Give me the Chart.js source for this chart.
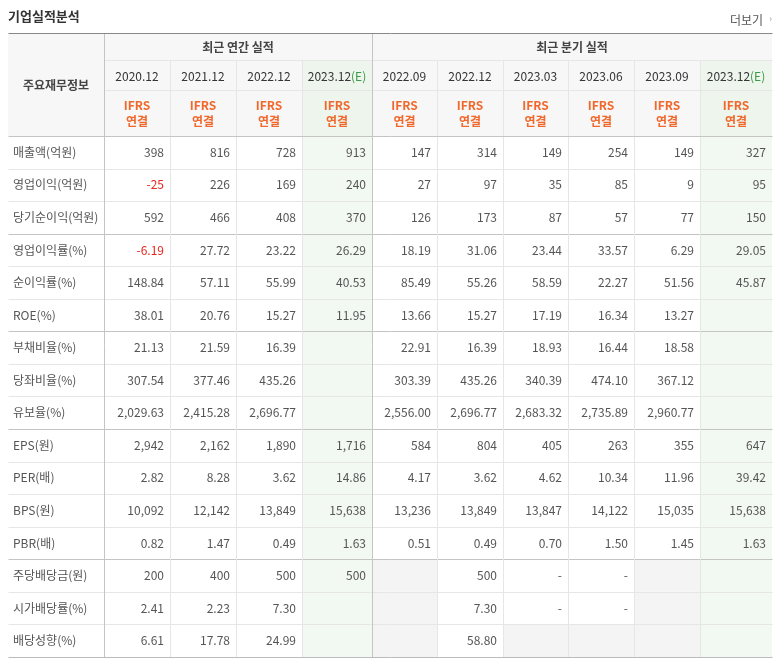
<!DOCTYPE html>
<html><head><meta charset="utf-8">
<script src="https://cdn.jsdelivr.net/npm/chart.js@4/dist/chart.umd.min.js"></script>
<style>html,body{margin:0;padding:0;background:#fff}#w{width:782px;height:660px}</style>
</head><body><div id="w"><canvas id="c"></canvas></div>
<script>
const rowLabels=['매출액(억원)','영업이익(억원)','당기순이익(억원)','영업이익률(%)','순이익률(%)','ROE(%)','부채비율(%)','당좌비율(%)','유보율(%)','EPS(원)','PER(배)','BPS(원)','PBR(배)','주당배당금(원)','시가배당률(%)','배당성향(%)'];
const annualPeriods=['2020.12','2021.12','2022.12','2023.12'];
const quarterPeriods=['2022.09','2022.12','2023.03','2023.06','2023.09','2023.12'];
const annualValues=[
['398','816','728','913'],['-25','226','169','240'],['592','466','408','370'],
['-6.19','27.72','23.22','26.29'],['148.84','57.11','55.99','40.53'],['38.01','20.76','15.27','11.95'],
['21.13','21.59','16.39',null],['307.54','377.46','435.26',null],['2,029.63','2,415.28','2,696.77',null],
['2,942','2,162','1,890','1,716'],['2.82','8.28','3.62','14.86'],['10,092','12,142','13,849','15,638'],
['0.82','1.47','0.49','1.63'],['200','400','500','500'],['2.41','2.23','7.30',null],['6.61','17.78','24.99',null]];
const quarterValues=[
['147','314','149','254','149','327'],['27','97','35','85','9','95'],['126','173','87','57','77','150'],
['18.19','31.06','23.44','33.57','6.29','29.05'],['85.49','55.26','58.59','22.27','51.56','45.87'],
['13.66','15.27','17.19','16.34','13.27',null],['22.91','16.39','18.93','16.44','18.58',null],
['303.39','435.26','340.39','474.10','367.12',null],['2,556.00','2,696.77','2,683.32','2,735.89','2,960.77',null],
['584','804','405','263','355','647'],['4.17','3.62','4.62','10.34','11.96','39.42'],
['13,236','13,849','13,847','14,122','15,035','15,638'],['0.51','0.49','0.70','1.50','1.45','1.63'],
[null,'500','-','-',null,null],[null,'7.30','-','-',null,null],[null,'58.80',null,null,null,null]];

const colEdges=[8,104,170,236,302,372,437,503,568,634,700,772];
const rowTop=136,rowH=32.56;
const F='"Noto Sans CJK KR","Noto Sans",sans-serif';
const tablePlugin={id:'tbl',afterDraw(ch){
 const c=ch.ctx,xs=ch.scales.x,ys=ch.scales.y;
 const X=v=>xs.getPixelForValue(v),Y=v=>ys.getPixelForValue(v);
 c.save();
 c.fillStyle='#333';c.font='bold 13px '+F;c.textBaseline='middle';c.textAlign='left';
 c.fillText('기업실적분석',X(8),Y(16));
 c.font='12px '+F;c.fillStyle='#555';c.textAlign='right';c.fillText('더보기',X(763),Y(20));
 c.fillStyle='#999';c.font='9px '+F;c.fillText('›',X(772),Y(19));
 // header bg
 c.fillStyle='#f7f7f7';c.fillRect(X(8),Y(33),X(772)-X(8),Y(136)-Y(33));
 const green='#f2f8f2';
 [4,10].forEach(i=>{c.fillStyle='#edf5ed';c.fillRect(X(colEdges[i]),Y(60),X(colEdges[i+1])-X(colEdges[i]),Y(136)-Y(60));
   c.fillStyle=green;c.fillRect(X(colEdges[i]),Y(136),X(colEdges[i+1])-X(colEdges[i]),Y(657)-Y(136));});
 // empty quarter cells gray
 quarterValues.forEach((r,ri)=>r.forEach((v,ci)=>{if(v===null&&ci<5){c.fillStyle='#f4f4f4';
   c.fillRect(X(colEdges[ci+5]),Y(rowTop+ri*rowH),X(colEdges[ci+6])-X(colEdges[ci+5]),rowH);}}));
 // grid
 c.lineWidth=1;c.strokeStyle='#e6e6e6';
 const L=(x1,y1,x2,y2,col)=>{c.strokeStyle=col;c.beginPath();c.moveTo(Math.round(X(x1))+.5,Math.round(Y(y1))+.5);c.lineTo(Math.round(X(x2))+.5,Math.round(Y(y2))+.5);c.stroke();};
 L(104,60,772,60,'#e6e6e6');L(104,90,772,90,'#e6e6e6');
 for(let i=1;i<16;i++){const y=rowTop+i*rowH;const grp=[3,6,9,13].includes(i);L(8,y,772,y,grp?'#c4c4c4':'#e6e6e6');}
 colEdges.forEach((x,i)=>{if(i==0||i==11)return;const full=(i==1||i==5);L(x,full?33:60,x,657,full?'#c4c4c4':'#e6e6e6');});
 L(8,136,772,136,'#c4c4c4');L(8,33,772,33,'#888');L(8,657,772,657,'#bbb');
 // header text
 c.textAlign='center';c.fillStyle='#444';c.font='bold 12px '+F;
 c.fillText('최근 연간 실적',X(238),Y(47));c.fillText('최근 분기 실적',X(572),Y(47));
 c.fillText('주요재무정보',X(56),Y(85));
 const periods=annualPeriods.concat(quarterPeriods);
 periods.forEach((p,i)=>{const cx=(X(colEdges[i+1])+X(colEdges[i+2]))/2;
   c.font='12px '+F;c.fillStyle='#333';
   if(i==3||i==9){const w1=c.measureText(p).width,w2=c.measureText('(E)').width;const s=cx-(w1+w2)/2;
     c.textAlign='left';c.fillText(p,s,Y(76));c.fillStyle='#3a9a4a';c.fillText('(E)',s+w1,Y(76));c.textAlign='center';}
   else c.fillText(p,cx,Y(76));
   c.fillStyle='#f0682c';c.font='bold 12px '+F;c.fillText('IFRS',cx,Y(105));c.fillText('연결',cx,Y(121));});
 // rows
 rowLabels.forEach((lb,ri)=>{const cy=Y(rowTop+ri*rowH+rowH/2);
   c.textAlign='left';c.fillStyle='#555';c.font='12px '+F;c.fillText(lb,X(13),cy);
   const vals=annualValues[ri].concat(quarterValues[ri]);
   c.textAlign='right';
   vals.forEach((v,ci)=>{if(v===null)return;c.fillStyle=v.startsWith('-')&&v.length>1?'#e8241c':'#555';
     c.fillText(v,X(colEdges[ci+2])-6,cy);});});
 c.restore();}};
new Chart(document.getElementById('c'),{type:'scatter',data:{datasets:[{data:[]}]},
 options:{responsive:true,maintainAspectRatio:false,animation:false,layout:{padding:0},
 plugins:{legend:{display:false},tooltip:{enabled:false}},
 scales:{x:{type:'linear',min:0,max:782,display:false},y:{type:'linear',min:0,max:660,reverse:true,display:false}}},
 plugins:[tablePlugin]});
</script></body></html>
